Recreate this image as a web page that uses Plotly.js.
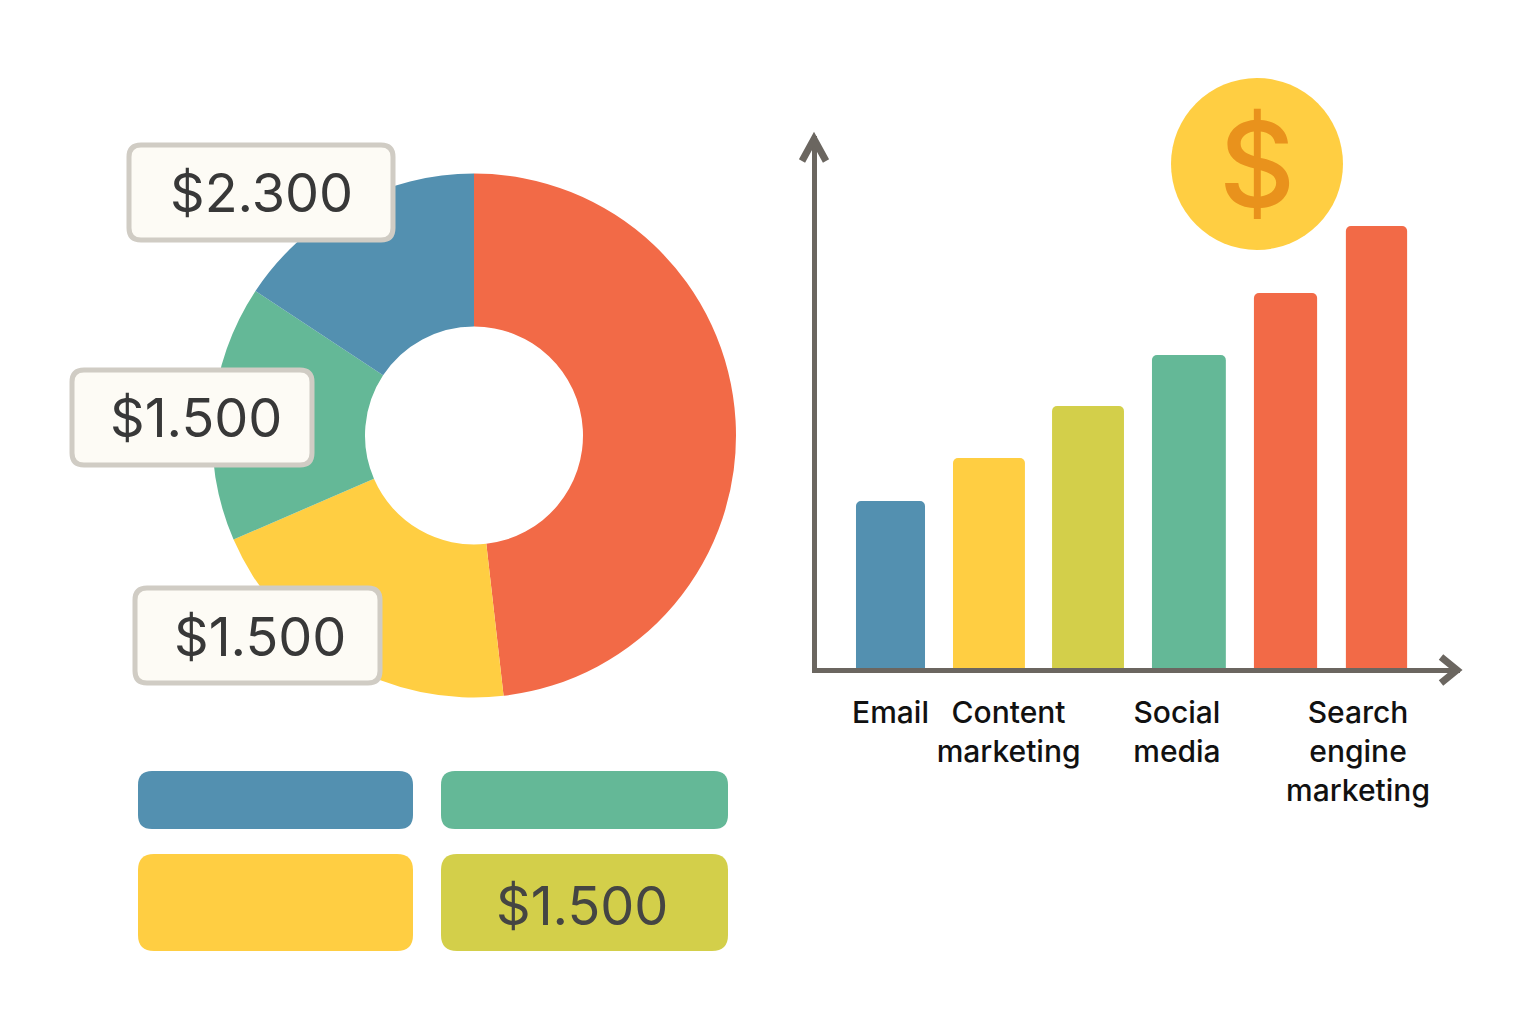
<!DOCTYPE html>
<html><head><meta charset="utf-8">
<script src="https://cdn.plot.ly/plotly-3.0.1.min.js"></script>
<style>html,body{margin:0;padding:0;background:#fff}</style></head>
<body><div id="chart" style="width:1536px;height:1024px"></div>
<script>
const W=1536,H=1024;
// Donut
const pieLabels=["Search engine marketing","Content marketing","Social media","Email"];
const pieValues=[48.2,20.3,15.8,15.7];
const pieColors=["#F26A47","#FFCE42","#64B897","#5390B0"];
// Bars
const barPositions=[0,1.013,2.032,3.07,4.064,5.0];
const barWidths=[0.71,0.74,0.74,0.76,0.65,0.63];
const barValues=[167,210,262,313,375,442];
const barColors=["#5390B0","#FFCE42","#D3CF4A","#64B897","#F26A47","#F26A47"];
// Tick labels
const tickPositions=[0,1.215,2.947,4.81];
const tickLabels=["Email","Content<br>marketing","Social<br>media","Search<br>engine<br>marketing"];
// Text
const callouts=["$2.300","$1.500","$1.500"];
const swatchText="$1.500";
const FONT="Inter, sans-serif", INK="#383838", AXIS="#6b6660";
const px=x=>x/W, py=y=>1-y/H;
function rr(x0,y0,x1,y1,r){
  const P=(x,y)=>px(x)+","+py(y);
  const c=(x,y)=>"Q"+P(x,y);
  return "M"+P(x0+r,y0)+"L"+P(x1-r,y0)+c(x1,y0)+" "+P(x1,y0+r)+"L"+P(x1,y1-r)+c(x1,y1)+" "+P(x1-r,y1)+
         "L"+P(x0+r,y1)+c(x0,y1)+" "+P(x0,y1-r)+"L"+P(x0,y0+r)+c(x0,y0)+" "+P(x0+r,y0)+"Z";
}
const box=(x0,y0,x1,y1,r,fill,lc,lw)=>({type:"path",xref:"paper",yref:"paper",layer:"above",path:rr(x0,y0,x1,y1,r),fillcolor:fill,line:{color:lc||fill,width:lw||0}});
const chev=(a,b,c)=>({type:"path",xref:"paper",yref:"paper",layer:"above",
  path:"M"+px(a[0])+","+py(a[1])+"L"+px(b[0])+","+py(b[1])+"L"+px(c[0])+","+py(c[1]),line:{color:AXIS,width:7}});
const shapes=[
  box(129,145,393,240,12,"#FDFBF5","#D0CCC4",5),
  box(72,370,312,465,12,"#FDFBF5","#D0CCC4",5),
  box(135,588,380,683,12,"#FDFBF5","#D0CCC4",5),
  box(138,771,413,829,14,"#5390B0"),
  box(441,771,728,829,14,"#64B897"),
  box(138,854,413,951,16,"#FFCE42"),
  box(441,854,728,951,16,"#D3CF4A"),
  chev([802,161],[814,139],[826,161]),
  chev([1441,657],[1457,670],[1441,683]),
  {type:"circle",xref:"paper",yref:"paper",layer:"above",x0:px(1171),x1:px(1343),y0:py(78),y1:py(250),fillcolor:"#FFCE42",line:{width:0}}
];
const note=(x,y,text,size,color,weight)=>({xref:"paper",yref:"paper",x:px(x),y:py(y),text,showarrow:false,xanchor:"center",yanchor:"middle",font:{family:FONT,size,color,weight:weight||400}});
const annotations=[
  note(261,192,callouts[0],54,INK),
  note(196,417,callouts[1],54,INK),
  note(260,636,callouts[2],54,INK),
  note(582,905,swatchText,54,"#454543"),
  note(1257,164,"$",118,"#E9921C",500)
];
const plotL=817,plotR=1460,plotT=136,plotB=668;
const unit=97.2,firstBarX=890.5;
const traces=[
 {type:"pie",labels:pieLabels,values:pieValues,sort:false,direction:"clockwise",rotation:0,hole:109/262,
  marker:{colors:pieColors,line:{width:0}},textinfo:"none",hoverinfo:"label+value",showlegend:false,
  domain:{x:[px(474-262),px(474+262)],y:[py(435.5+262),py(435.5-262)]}},
 {type:"bar",x:barPositions,y:barValues,width:barWidths,marker:{color:barColors,line:{width:0}},hoverinfo:"y",showlegend:false}
];
const layout={width:W,height:H,margin:{l:0,r:0,t:0,b:0},paper_bgcolor:"#fff",plot_bgcolor:"rgba(0,0,0,0)",
  barcornerradius:5,showlegend:false,shapes,annotations,
  xaxis:{domain:[px(plotL),px(plotR)],range:[(plotL-firstBarX)/unit,(plotR-firstBarX)/unit],showgrid:false,zeroline:false,
    showline:true,linecolor:AXIS,linewidth:5,tickmode:"array",tickvals:tickPositions,ticktext:tickLabels,ticks:"",
    ticklabelstandoff:14,tickangle:0,tickfont:{family:FONT,size:30,color:"#111111",weight:500},automargin:false},
  yaxis:{domain:[py(plotB),py(plotT)],range:[0,plotB-plotT],showgrid:false,zeroline:false,showline:true,linecolor:AXIS,linewidth:5,
    showticklabels:false,ticks:"",automargin:false}
};
Plotly.newPlot("chart",traces,layout,{displayModeBar:false,responsive:false});
</script></body></html>
